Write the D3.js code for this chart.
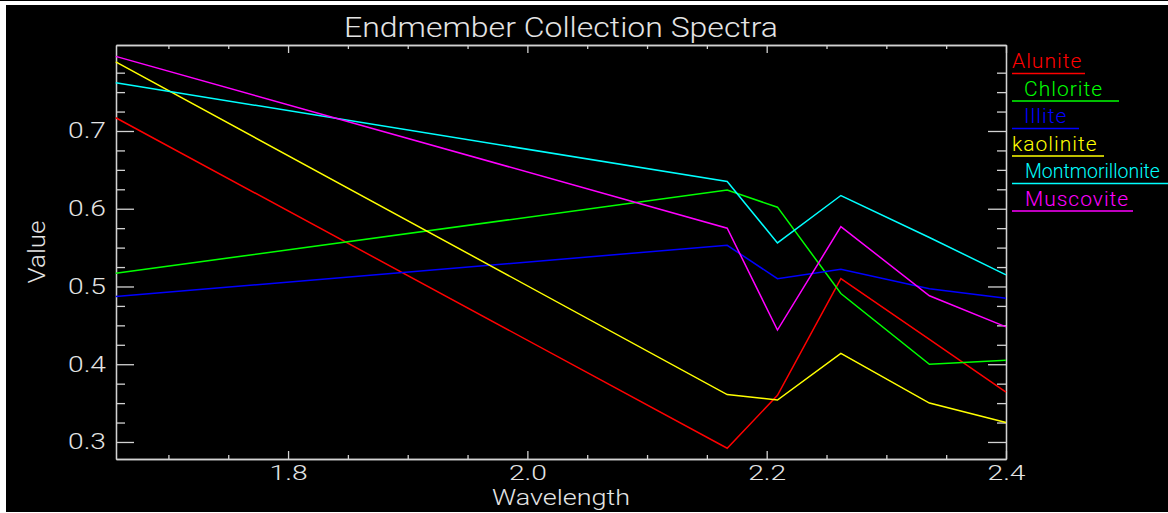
<!DOCTYPE html>
<html>
<head>
<meta charset="utf-8">
<script src="https://cdn.jsdelivr.net/npm/d3@7/dist/d3.min.js"></script>
<style>
  html, body { margin: 0; padding: 0; background: #ffffff; }
  svg { display: block; }
  text { font-family: Roboto, "DejaVu Sans", sans-serif; font-weight: 300; }
</style>
</head>
<body>
<script>
// ---------- data ----------
const wavelengths = [1.656, 2.167, 2.209, 2.262, 2.336, 2.400];
const seriesNames = ["Alunite", "Chlorite", "Illite", "kaolinite", "Montmorillonite", "Muscovite"];
const alunite         = [0.717, 0.292, 0.360, 0.510, 0.432, 0.364];
const chlorite        = [0.517, 0.624, 0.602, 0.491, 0.400, 0.405];
const illite          = [0.487, 0.553, 0.510, 0.522, 0.497, 0.485];
const kaolinite       = [0.789, 0.361, 0.354, 0.414, 0.350, 0.325];
const montmorillonite = [0.762, 0.635, 0.556, 0.617, 0.563, 0.515];
const muscovite       = [0.796, 0.575, 0.444, 0.577, 0.488, 0.448];
const seriesValues = [alunite, chlorite, illite, kaolinite, montmorillonite, muscovite];
const seriesColors = ["#ff0000", "#00ff00", "#0000ff", "#ffff00", "#00ffff", "#ff00ff"];

const xMajorTicks = [1.8, 2.0, 2.2, 2.4];
const xTickLabels = ["1.8", "2.0", "2.2", "2.4"];
const xMinorTicks = [1.70, 1.75, 1.85, 1.90, 1.95, 2.05, 2.10, 2.15, 2.25, 2.30, 2.35];
const yMajorTicks = [0.3, 0.4, 0.5, 0.6, 0.7];
const yTickLabels = ["0.3", "0.4", "0.5", "0.6", "0.7"];
const yMinorTicks = [0.325, 0.35, 0.375, 0.425, 0.45, 0.475, 0.525, 0.55, 0.575, 0.625, 0.65, 0.675, 0.725, 0.75, 0.775];
const xDomain = [1.6562, 2.4];
const yDomain = [0.2781, 0.8106];

const titleText = "Endmember Collection Spectra";
const xTitle = "Wavelength";
const yTitle = "Value";

// ---------- layout ----------
const W = 1168, H = 513;
const plot = { left: 116, right: 1006, top: 45, bottom: 459 };
const legendIndent = [0, 12, 12, 0, 13, 13];
const legendUnderline = [73, 107, 67, 92, 170, 121];
const fg = "#e4e4e4", axisCol = "#d2d2d2";

const svg = d3.select("body").append("svg").attr("width", W).attr("height", H);

// frame backgrounds
svg.append("rect").attr("x", 0).attr("y", 0).attr("width", W).attr("height", 1).attr("fill", "#000");
svg.append("rect").attr("x", 6).attr("y", 5).attr("width", W - 6).attr("height", 507).attr("fill", "#000");

const x = d3.scaleLinear().domain(xDomain).range([plot.left, plot.right]);
const y = d3.scaleLinear().domain(yDomain).range([plot.bottom, plot.top]);

function styleAxis(g) {
  g.selectAll("path.domain").attr("stroke", axisCol).attr("stroke-width", 1.3);
  g.selectAll(".tick line").attr("stroke", axisCol).attr("stroke-width", 1.3);
  g.selectAll("text").attr("fill", fg).style("font-size", "22px")
    .style("font-family", "Roboto, 'DejaVu Sans', sans-serif").style("font-weight", 300);
}

// left axis (major with labels)
const gl = svg.append("g").attr("transform", `translate(${plot.left},0)`)
  .call(d3.axisLeft(y).tickValues(yMajorTicks).tickFormat((d, i) => yTickLabels[i])
    .tickSizeInner(-18).tickSizeOuter(0).tickPadding(10));
styleAxis(gl);
gl.selectAll("text").attr("dy", null).attr("y", 7).attr("textLength", 38).attr("lengthAdjust", "spacingAndGlyphs");
svg.append("g").attr("transform", `translate(${plot.left},0)`)
  .call(d3.axisLeft(y).tickValues(yMinorTicks).tickFormat("").tickSizeInner(-9).tickSizeOuter(0))
  .call(styleAxis);

// right axis
svg.append("g").attr("transform", `translate(${plot.right},0)`)
  .call(d3.axisRight(y).tickValues(yMajorTicks).tickFormat("").tickSizeInner(-18).tickSizeOuter(0))
  .call(styleAxis);
svg.append("g").attr("transform", `translate(${plot.right},0)`)
  .call(d3.axisRight(y).tickValues(yMinorTicks).tickFormat("").tickSizeInner(-9).tickSizeOuter(0))
  .call(styleAxis);

// bottom axis
const gb = svg.append("g").attr("transform", `translate(0,${plot.bottom})`)
  .call(d3.axisBottom(x).tickValues(xMajorTicks).tickFormat((d, i) => xTickLabels[i])
    .tickSizeInner(-8).tickSizeOuter(0));
styleAxis(gb);
gb.selectAll("text").attr("dy", null).attr("y", 21).style("font-size", "21px")
  .attr("textLength", 38).attr("lengthAdjust", "spacingAndGlyphs");
svg.append("g").attr("transform", `translate(0,${plot.bottom})`)
  .call(d3.axisBottom(x).tickValues(xMinorTicks).tickFormat("").tickSizeInner(-4).tickSizeOuter(0))
  .call(styleAxis);

// top axis
svg.append("g").attr("transform", `translate(0,${plot.top})`)
  .call(d3.axisTop(x).tickValues(xMajorTicks).tickFormat("").tickSizeInner(-8).tickSizeOuter(0))
  .call(styleAxis);
svg.append("g").attr("transform", `translate(0,${plot.top})`)
  .call(d3.axisTop(x).tickValues(xMinorTicks).tickFormat("").tickSizeInner(-4).tickSizeOuter(0))
  .call(styleAxis);

// lines
const line = d3.line().x((d, i) => x(wavelengths[i])).y(d => y(d));
svg.append("g").selectAll("path").data(seriesValues).join("path")
  .attr("d", line).attr("fill", "none")
  .attr("stroke", (d, i) => seriesColors[i]).attr("stroke-width", 1.5)
  .attr("stroke-linejoin", "miter");

// titles
svg.append("text").attr("x", (plot.left + plot.right) / 2 ).attr("y", 37)
  .attr("text-anchor", "middle").attr("fill", fg).style("font-size", "28px")
  .attr("textLength", 434).attr("lengthAdjust", "spacingAndGlyphs").text(titleText);
svg.append("text").attr("x", (plot.left + plot.right) / 2).attr("y", 505)
  .attr("text-anchor", "middle").attr("fill", fg).style("font-size", "22px")
  .attr("textLength", 138).attr("lengthAdjust", "spacingAndGlyphs").text(xTitle);
svg.append("text").attr("transform", `translate(45,${(plot.top + plot.bottom) / 2}) rotate(-90)`)
  .attr("text-anchor", "middle").attr("fill", fg).style("font-size", "23px")
  .attr("textLength", 63).attr("lengthAdjust", "spacingAndGlyphs").text(yTitle);

// legend
const lg = svg.append("g");
seriesNames.forEach((name, i) => {
  const base = 68 + i * 27.5;
  const t = lg.append("text").attr("x", 1012 + legendIndent[i]).attr("y", base)
    .attr("fill", seriesColors[i]).style("font-size", "21px").style("letter-spacing", "1px").text(name);
  const avail = W - 8 - (1012 + legendIndent[i]);
  const w = t.node().getComputedTextLength();
  if (w > avail) {
    t.style("letter-spacing", "0px");
    const w0 = t.node().getComputedTextLength();
    t.style("font-size", (21 * avail / w0).toFixed(2) + "px");
  }
  lg.append("line").attr("x1", 1012).attr("x2", 1012 + legendUnderline[i])
    .attr("y1", base + 5.5).attr("y2", base + 5.5)
    .attr("stroke", seriesColors[i]).attr("stroke-width", 1.5);
});
</script>
</body>
</html>
